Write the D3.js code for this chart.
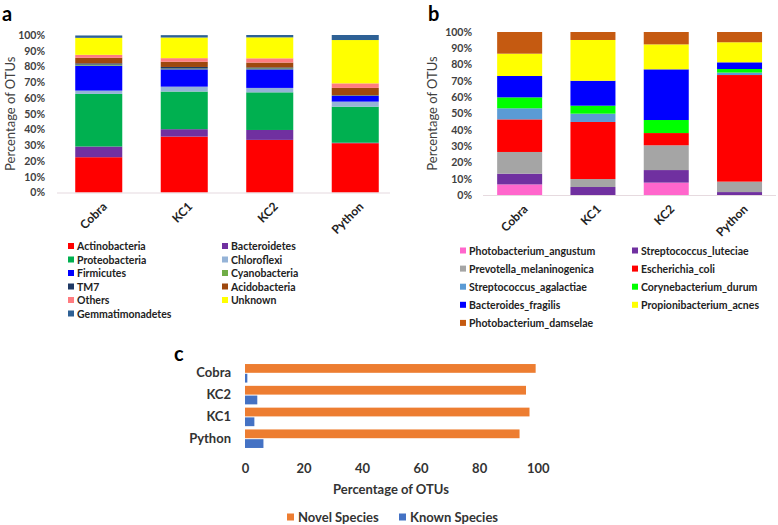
<!DOCTYPE html>
<html><head><meta charset="utf-8">
<script src="https://cdn.jsdelivr.net/npm/d3@7"></script>
<style>
body{margin:0;background:#fff;}
text{font-family:Lato,"Open Sans",sans-serif;}
</style></head>
<body>
<svg id="chart" width="778" height="525"></svg>
<script>
// ---------- Panel a data ----------
const samplesA = ["Cobra","KC1","KC2","Python"];
const phyla = ["Actinobacteria","Bacteroidetes","Proteobacteria","Chloroflexi","Firmicutes","Cyanobacteria","TM7","Acidobacteria","Others","Unknown","Gemmatimonadetes"];
const phylaColors = ["#FF0000","#7030A0","#00B050","#95B3D7","#0000FF","#70AD47","#1F3864","#9E480E","#FF7C80","#FFFF00","#2E6195"];
const actinobacteria   = [22.4,35.5,33.4,31.3];
const bacteroidetes    = [6.8,4.7,6.3,0.3];
const proteobacteria   = [33.4,23.9,23.9,22.9];
const chloroflexi      = [2.1,3.1,2.8,3.2];
const firmicutes       = [15.8,11.0,11.8,3.6];
const cyanobacteria    = [0.7,0.5,0.6,0.2];
const tm7              = [0.8,1.0,0.6,0.3];
const acidobacteria    = [3.5,3.3,3.1,4.6];
const others           = [1.9,2.3,2.7,2.9];
const unknown          = [10.8,13.1,13.3,27.5];
const gemmatimonadetes = [1.5,1.5,1.5,3.2];
const seriesA = [actinobacteria,bacteroidetes,proteobacteria,chloroflexi,firmicutes,cyanobacteria,tm7,acidobacteria,others,unknown,gemmatimonadetes];

// ---------- Panel b data ----------
const samplesB = ["Cobra","KC1","KC2","Python"];
const species = ["Photobacterium_angustum","Streptococcus_luteciae","Prevotella_melaninogenica","Escherichia_coli","Streptococcus_agalactiae","Corynebacterium_durum","Bacteroides_fragilis","Propionibacterium_acnes","Photobacterium_damselae"];
const speciesColors = ["#FF66CC","#7030A0","#A5A5A5","#FF0000","#5B9BD5","#00FF00","#0000FF","#FFFF00","#C55A11"];
const pAngustum   = [6.5,0,7.6,0];
const sLuteciae   = [6.6,4.9,7.7,1.8];
const pMelanino   = [13.3,4.9,15.2,6.4];
const eColi       = [20.0,35.0,7.5,65.4];
const sAgalactiae = [6.8,5.1,0,1.5];
const cDurum      = [6.7,4.9,8.0,2.2];
const bFragilis   = [13.1,15.3,31.1,4.1];
const pAcnes      = [13.7,25.0,15.3,12.3];
const pDamselae   = [13.3,4.9,7.6,6.3];
const seriesB = [pAngustum,sLuteciae,pMelanino,eColi,sAgalactiae,cDurum,bFragilis,pAcnes,pDamselae];

const pctTicks = [0,10,20,30,40,50,60,70,80,90,100];

// ---------- Panel c data ----------
const samplesC = ["Cobra","KC2","KC1","Python"];
const groupsC = ["Novel Species","Known Species"];
const groupColors = ["#ED7D31","#4472C4"];
const novel = [99.3,96.0,97.2,93.8];
const known = [0.8,4.2,3.2,6.3];
const cTicks = [0,20,40,60,80,100];

const svg = d3.select("#chart");

function stackedPanel(cfg){
  const g = svg.append("g");
  const rows = cfg.samples.map((s,i)=>{
    const r = {sample:s};
    cfg.keys.forEach((k,j)=> r[k]=cfg.series[j][i]);
    return r;
  });
  const stack = d3.stack().keys(cfg.keys)(rows);
  const x = d3.scaleBand().domain(cfg.samples).range(cfg.xRange).paddingInner(cfg.padIn).paddingOuter(cfg.padOut);
  const y = d3.scaleLinear().domain([0,100]).range(cfg.yRange);
  const color = d3.scaleOrdinal().domain(cfg.keys).range(cfg.colors);
  g.selectAll("g.layer").data(stack).join("g").attr("fill",d=>color(d.key))
    .selectAll("rect").data(d=>d).join("rect")
    .attr("x",d=>x(d.data.sample)).attr("width",x.bandwidth())
    .attr("y",d=>y(d[1])).attr("height",d=>Math.max(0,y(d[0])-y(d[1])));
  // baseline
  g.append("line").attr("x1",cfg.baseX[0]).attr("x2",cfg.baseX[1])
    .attr("y1",y(0)+0.5).attr("y2",y(0)+0.5).attr("stroke","#E6DADF").attr("stroke-width",1.2);
  // y axis
  const ya = g.append("g").attr("transform",`translate(${cfg.tickX},0)`)
    .call(d3.axisLeft(y).tickValues(pctTicks).tickFormat(d=>d+"%").tickSize(0).tickPadding(0));
  ya.select(".domain").remove();
  ya.selectAll("text").attr("font-size",10.5).attr("font-weight","bold").attr("fill","#404040")
    .attr("font-family","Lato,sans-serif");
  // y title
  g.append("text").attr("transform",`translate(${cfg.titleX},${(y(0)+y(100))/2}) rotate(-90)`)
    .attr("text-anchor","middle").attr("font-size",13).attr("fill","#404040").text("Percentage of OTUs");
  // x labels
  g.selectAll("text.xl").data(cfg.samples).join("text").attr("class","xl")
    .attr("transform",d=>`translate(${x(d)+x.bandwidth()/2+3},${y(0)+9}) rotate(-45)`)
    .attr("text-anchor","end").attr("dy","0.7em").attr("font-size",12).attr("font-weight","bold").attr("fill","#222")
    .text(d=>d);
  // legend
  const lg = g.append("g");
  cfg.keys.forEach((k,i)=>{
    const col = i%2, row = Math.floor(i/2);
    const lx = cfg.legX[col], ly = cfg.legY0 + row*cfg.legDy;
    lg.append("rect").attr("x",lx).attr("y",ly-3.5).attr("width",6).attr("height",6).attr("fill",color(k));
    lg.append("text").attr("x",lx+9).attr("y",ly).attr("dy","0.35em").attr("font-size",cfg.legFont)
      .attr("font-weight","bold").attr("fill","#222").text(k);
  });
  // panel letter
  g.append("text").attr("x",cfg.letter[0]).attr("y",cfg.letter[1]).attr("font-family","'Liberation Sans',Arial,sans-serif")
    .attr("font-size",20).attr("font-weight","bold").attr("fill","#000").text(cfg.letterText);
}

stackedPanel({samples:samplesA,keys:phyla,colors:phylaColors,series:seriesA,
  xRange:[56,398],padIn:0.45,padOut:0.225,yRange:[192.5,35],baseX:[57,390],
  tickX:45,titleX:15,legX:[68,222],legY0:246.5,legDy:13.5,legFont:10.5,letter:[2,21],letterText:"a"});

stackedPanel({samples:samplesB,keys:species,colors:speciesColors,series:seriesB,
  xRange:[483,776.2],padIn:0.386,padOut:0.193,yRange:[195,32],baseX:[483,776],
  tickX:472,titleX:437,legX:[460,632],legY0:251,legDy:18.1,legFont:10.5,letter:[428,21],letterText:"b"});

// ---------- Panel c ----------
(function(){
  const g = svg.append("g");
  const x = d3.scaleLinear().domain([0,100]).range([245,537.7]);
  const y0 = d3.scaleBand().domain(samplesC).range([362.4,449.6]).paddingInner(0.15).paddingOuter(0.075);
  const y1 = d3.scaleBand().domain(groupsC).range([0,y0.bandwidth()]).paddingInner(0.1);
  const color = d3.scaleOrdinal().domain(groupsC).range(groupColors);
  const vals = [novel,known];
  const rows = samplesC.map((s,i)=>({sample:s,values:groupsC.map((gk,j)=>({key:gk,value:vals[j][i]}))}));
  g.selectAll("g.cat").data(rows).join("g").attr("transform",d=>`translate(0,${y0(d.sample)})`)
    .selectAll("rect").data(d=>d.values).join("rect")
    .attr("x",x(0)).attr("y",d=>y1(d.key)).attr("height",y1.bandwidth())
    .attr("width",d=>x(d.value)-x(0)).attr("fill",d=>color(d.key));
  const xa = g.append("g").attr("transform","translate(0,468)")
    .call(d3.axisBottom(x).tickValues(cTicks).tickSize(0).tickPadding(0));
  xa.select(".domain").remove();
  xa.selectAll("text").attr("dy","0.35em").attr("font-size",13).attr("font-weight","bold").attr("fill","#333")
    .attr("font-family","Lato,sans-serif");
  const ya = g.append("g").attr("transform","translate(231,0)")
    .call(d3.axisLeft(y0).tickSize(0).tickPadding(0));
  ya.select(".domain").remove();
  ya.selectAll("text").attr("font-size",13).attr("font-weight","bold").attr("fill","#333")
    .attr("font-family","Lato,sans-serif");
  g.append("text").attr("x",391).attr("y",489).attr("dy","0.35em").attr("text-anchor","middle")
    .attr("font-size",13).attr("font-weight","bold").attr("fill","#333").text("Percentage of OTUs");
  const legX = [287,399];
  groupsC.forEach((k,i)=>{
    g.append("rect").attr("x",legX[i]).attr("y",513.5).attr("width",7).attr("height",7).attr("fill",color(k));
    g.append("text").attr("x",legX[i]+11).attr("y",517).attr("dy","0.35em").attr("font-size",13)
      .attr("font-weight","bold").attr("fill","#333").text(k);
  });
  g.append("text").attr("x",174).attr("y",361).attr("font-family","'Liberation Sans',Arial,sans-serif")
    .attr("font-size",20).attr("font-weight","bold").attr("fill","#000").text("c");
})();
</script>
</body></html>
